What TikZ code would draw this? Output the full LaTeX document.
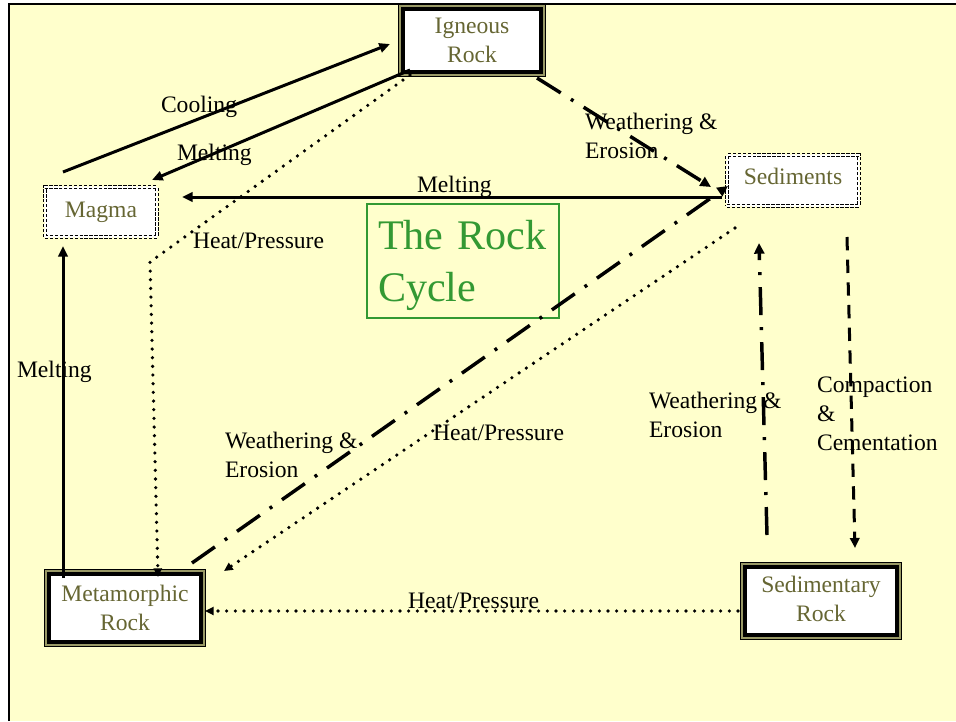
\documentclass[tikz,border=0pt]{standalone}
\usepackage{fontspec}
\setmainfont{Liberation Serif}
\usetikzlibrary{arrows.meta}
\definecolor{bgyellow}{HTML}{FFFFCC}
\definecolor{nodetext}{HTML}{666633}
\definecolor{bandolive}{HTML}{999966}
\definecolor{titlegreen}{HTML}{339933}
\newcommand\rcfont{\fontsize{17.7pt}{21.75pt}\selectfont}
\newcommand\rctitlefont{\fontsize{31.6pt}{39pt}\selectfont}
\tikzset{
  rockbox/.style={fill=white, draw=black, line width=3pt,
    preaction={draw=black, line width=7.5pt},
    preaction={draw=bandolive, line width=6pt},
    text=nodetext, font=\rcfont, align=center, inner sep=0pt, outer sep=0pt},
  dashbox/.style={fill=white, draw=black, line width=0.6pt, double=white,
    double distance=1.5pt, dash pattern=on 2.5pt off 1.2pt,
    text=nodetext, font=\rcfont, inner sep=0pt, outer sep=0pt},
  titlebox/.style={draw=titlegreen, line width=1.1pt, text=titlegreen,
    font=\rctitlefont, align=left, text width=127.5pt, inner xsep=8.25pt,
    inner ysep=0pt, minimum height=85.5pt, outer sep=0pt},
  lbl/.style={font=\rcfont, text=black, inner sep=0pt, outer sep=0pt, align=left},
  solidarr/.style={line width=2.25pt, -{Triangle[length=8pt,width=7pt]}},
  dotarr/.style={line width=2.7pt, line cap=round, dash pattern=on 0pt off 6.5pt,
    -{Triangle[length=6.5pt,width=6pt]}},
  dasharr/.style={line width=2.25pt, dash pattern=on 10pt off 7pt,
    -{Triangle[length=7.5pt,width=7pt]}},
  dotdasharr/.style={line width=2.6pt, dash pattern=on 21pt off 9pt on 2.25pt off 9pt,
    -{Triangle[length=8pt,width=7.5pt]}},
}
\begin{document}
\begin{tikzpicture}[x=0.75pt,y=-0.75pt]
% canvas
\fill[white] (0,0) rectangle (956,721);
\useasboundingbox (0,0) rectangle (956,721);
\fill[bgyellow] (9,4) rectangle (956,721);
\draw[line width=1.5pt] (9,721) -- (9,4) -- (956,4);

% nodes
\node[rockbox, minimum width=103.5pt, minimum height=47.25pt] (ig) at (472,40.5) {Igneous\\Rock};
\node[dashbox, minimum width=84pt, minimum height=37.5pt] (magma) at (101,212) {Magma};
\node[dashbox, minimum width=99pt, minimum height=38.25pt, text depth=6pt] (sed) at (793,180.5) {Sediments};
\node[rockbox, minimum width=114pt, minimum height=51pt] (meta) at (125,608) {Metamorphic\\Rock};
\node[rockbox, minimum width=114pt, minimum height=51pt] (sedr) at (821,601) {Sedimentary\\Rock\rule[-3pt]{0pt}{3pt}};
\node[titlebox, anchor=north west] (title) at (367,204) {\rule{0pt}{29pt}The Rock\\Cycle};

% labels
\node[lbl, anchor=base west] (lcool) at (161,112) {Cooling};
\node[lbl, anchor=base west] (lmelt1) at (177,160) {Melting};
\node[lbl, anchor=base west] (lhp1) at (193,248) {Heat/Pressure};
\node[lbl, anchor=base west] (lmelt2) at (417,192) {Melting};
\node[lbl, anchor=north west] (lwe1) at (585,113) {Weathering \&\\Erosion};
\node[lbl, anchor=north west] (lwe2) at (225,432) {Weathering \&\\Erosion};
\node[lbl, anchor=base west] (lhp2) at (433,440) {Heat/Pressure};
\node[lbl, anchor=north west] (lwe3) at (649,392) {Weathering \&\\Erosion};
\node[lbl, anchor=north west] (lcc) at (817,377) {Compaction\\\&\\Cementation};
\node[lbl, anchor=base west] (lmelt3) at (17,377) {Melting};
\node[lbl, anchor=base west] (lhp3) at (408,608) {Heat/Pressure};

% connectors
\coordinate (hpbend) at (150,262);
\draw[solidarr] ([shift={(-38,-15)}]magma.north) -- ([shift={(-13,3.5)}]ig.west);
\draw[solidarr] ([shift={(7,-2)}]ig.south west) -- ([shift={(-5,-7)}]magma.north east);
\draw[dotarr] ([shift={(7,3)}]ig.south west) -- (hpbend) -- ([shift={(33,3)}]meta.north);
\draw[solidarr] ([shift={(-5,16.5)}]sed.west) -- ([shift={(25,-15)}]magma.east);
\draw[dotdasharr] ([shift={(-4,6)}]ig.south east) -- ([shift={(-16,6.5)}]sed.west);
\draw[dotdasharr] ([shift={(-9,-11)}]meta.north east) -- ([shift={(1,-20)}]sed.south west);
\draw[dotarr] ([shift={(8,22)}]sed.south west) -- ([shift={(23,-3)}]meta.north east);
\draw[dotdasharr] ([shift={(-54,-32)}]sedr.north) -- ([shift={(-34,37)}]sed.south);
\draw[dasharr] ([shift={(54,31)}]sed.south) -- ([shift={(34,-19)}]sedr.north);
\draw[solidarr] ([shift={(14,4)}]meta.north west) -- ([shift={(18,9)}]magma.south west);
\draw[dotarr] ([shift={(-7,10)}]sedr.west) -- ([shift={(4,3)}]meta.east);
\end{tikzpicture}
\end{document}
